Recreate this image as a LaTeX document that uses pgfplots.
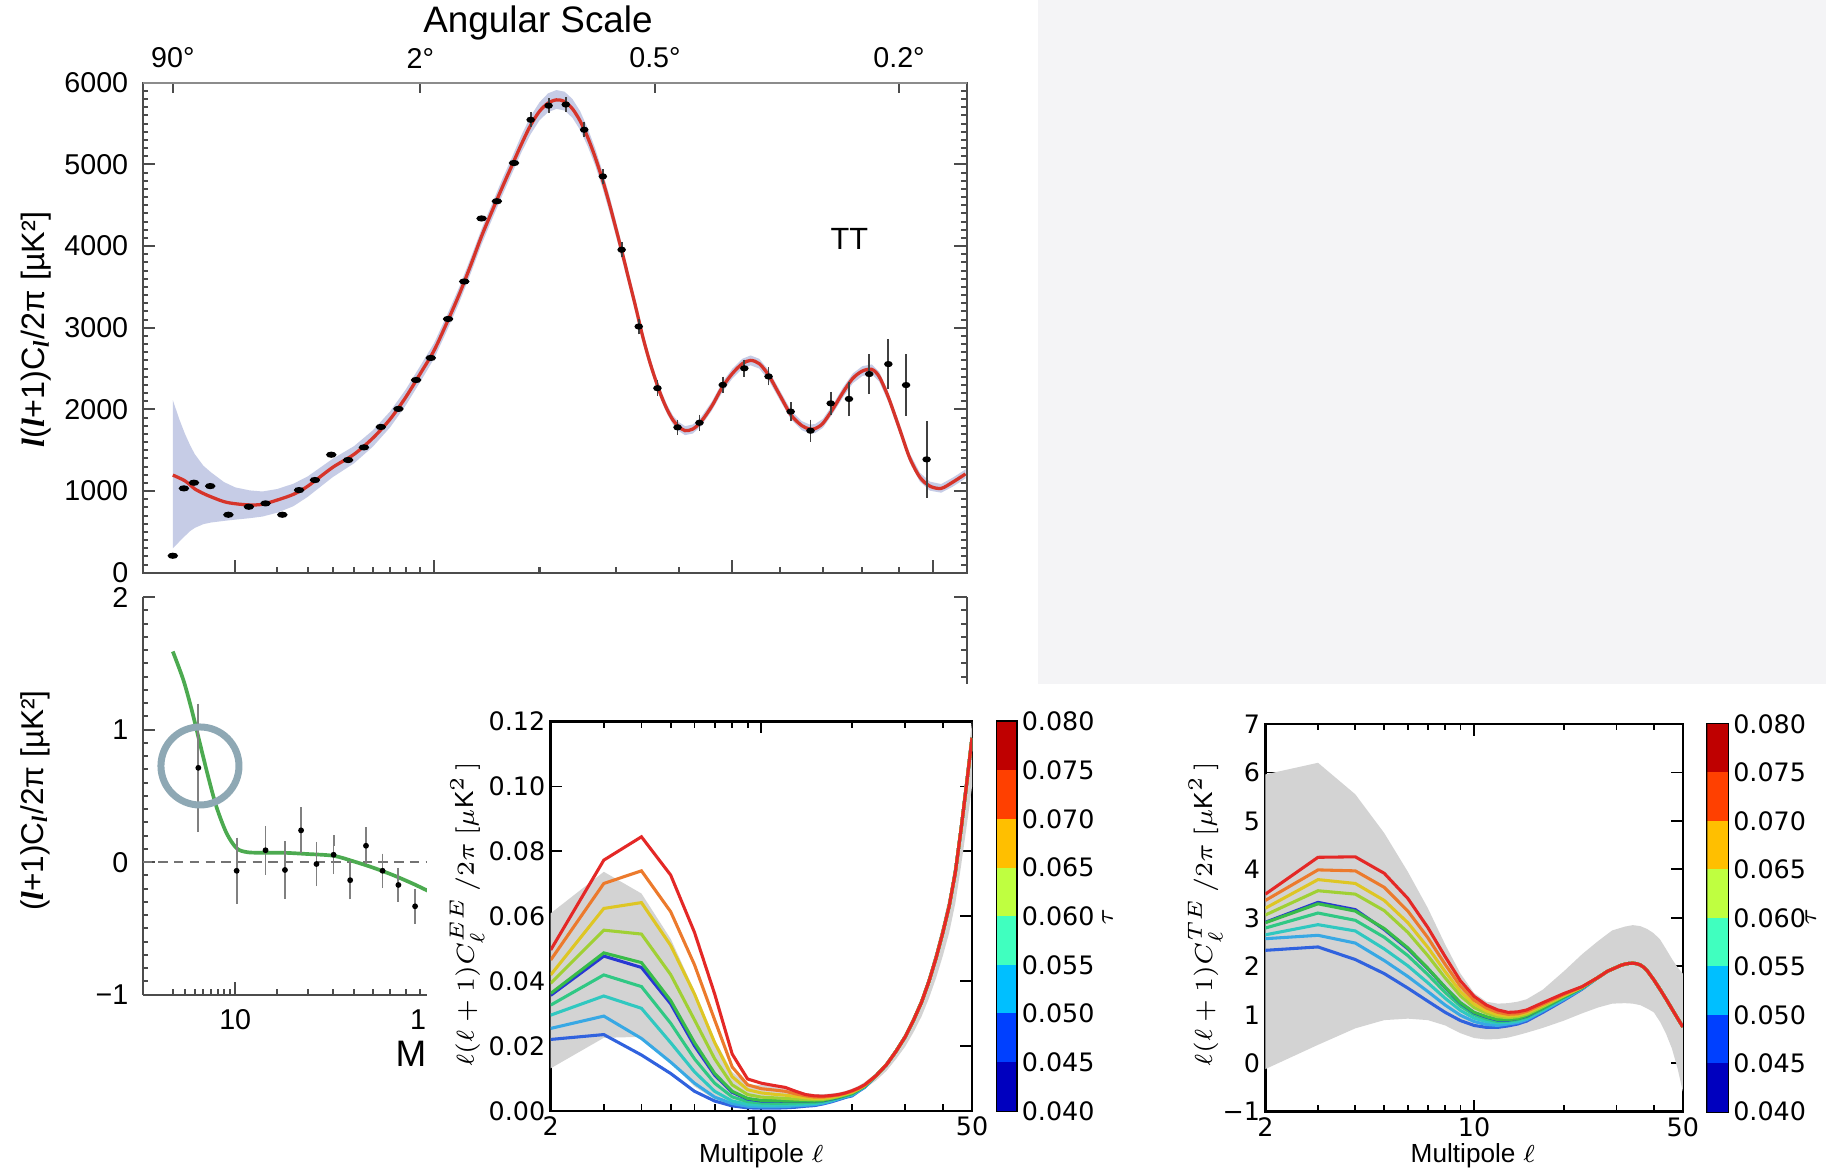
\documentclass[border=0pt]{standalone}
\usepackage{fontspec}
\setmainfont{Liberation Sans}
\newfontfamily\dejavu{DejaVu Sans}
\newfontfamily\libserif{Liberation Serif}
\usepackage{pgfplots}
\pgfplotsset{compat=1.18}
\usepackage{pgfplotstable}
\definecolor{wred}{RGB}{214,52,42}
\definecolor{wband}{RGB}{198,204,230}
\definecolor{wgreen}{RGB}{76,170,80}
\definecolor{circ}{RGB}{142,168,180}
\definecolor{greybg}{RGB}{244,244,246}
\definecolor{bandgrey}{RGB}{211,211,211}
\definecolor{cR}{RGB}{228,40,38}
\definecolor{cO}{RGB}{236,122,44}
\definecolor{cY}{RGB}{222,198,36}
\definecolor{cYG}{RGB}{160,208,52}
\definecolor{cG}{RGB}{56,188,72}
\definecolor{cDB}{RGB}{40,56,210}
\definecolor{cTG}{RGB}{48,200,132}
\definecolor{cT}{RGB}{48,200,192}
\definecolor{cC}{RGB}{56,168,228}
\definecolor{cB}{RGB}{48,98,222}
\definecolor{j1}{RGB}{0,0,191}
\definecolor{j2}{RGB}{0,64,255}
\definecolor{j3}{RGB}{0,191,255}
\definecolor{j4}{RGB}{64,255,191}
\definecolor{j5}{RGB}{191,255,64}
\definecolor{j6}{RGB}{255,191,0}
\definecolor{j7}{RGB}{255,64,0}
\definecolor{j8}{RGB}{191,0,0}
\newcommand\wl{{\libserif\bfseries\itshape l}}
% TT model curve
\pgfplotstableread{
l D
2 1196
2.5 1160
3 1125
3.5 1075
4 1025
5 970
6 930
8 870
10 845
13 830
16 838
20 890
25 960
30 1060
40 1290
50 1450
60 1650
70 1880
80 2150
90 2440
100 2720
110 3060
120 3400
130 3760
140 4120
150 4430
160 4720
170 4990
180 5250
190 5480
200 5650
210 5750
220 5790
230 5770
240 5680
250 5530
260 5330
270 5090
280 4820
290 4520
300 4200
310 3880
320 3550
330 3230
340 2900
350 2620
360 2380
370 2170
380 2000
390 1870
400 1790
411 1740
425 1760
440 1850
460 2040
480 2270
500 2440
520 2560
537 2600
555 2560
575 2420
600 2170
625 1930
650 1800
668 1760
681 1765
700 1830
725 2010
750 2210
775 2380
800 2470
825 2490
845 2400
870 2150
900 1780
930 1410
960 1170
990 1060
1024 1033
1060 1110
1100 1210
}\ttcurve
% TT uncertainty band: upper edge forward, lower edge back
\pgfplotstableread{
l v
2 2114
2.5 1880
3 1700
3.5 1560
4 1450
5 1310
6 1230
8 1110
10 1045
13 1008
16 995
20 1025
25 1090
30 1180
40 1395
50 1550
60 1745
70 1975
80 2245
90 2535
100 2810
110 3150
120 3490
130 3850
140 4210
150 4520
160 4820
170 5090
180 5360
190 5590
200 5760
210 5870
220 5910
230 5890
240 5800
250 5650
260 5440
270 5200
280 4920
290 4620
300 4290
310 3970
320 3630
330 3310
340 2970
350 2690
360 2440
370 2230
380 2055
390 1925
400 1845
411 1795
425 1815
440 1905
460 2095
480 2330
500 2500
520 2620
537 2660
555 2620
575 2480
600 2230
625 1985
650 1855
668 1815
681 1820
700 1885
725 2065
750 2270
775 2440
800 2530
825 2550
845 2460
870 2210
900 1840
930 1465
960 1225
990 1115
1024 1086
1060 1165
1100 1265
1100 1155
1060 1055
1024 980
990 1005
960 1115
930 1355
900 1720
870 2090
845 2340
825 2430
800 2410
775 2320
750 2150
725 1955
700 1775
681 1710
668 1705
650 1745
625 1875
600 2110
575 2360
555 2500
537 2540
520 2500
500 2380
480 2210
460 1985
440 1795
425 1705
411 1685
400 1735
390 1815
380 1945
370 2110
360 2320
350 2550
340 2830
330 3150
320 3470
310 3790
300 4110
290 4420
280 4720
270 4990
260 5220
250 5420
240 5570
230 5660
220 5680
210 5640
200 5540
190 5370
180 5150
170 4890
160 4620
150 4330
140 4020
130 3660
120 3300
110 2960
100 2620
90 2340
80 2050
70 1780
60 1545
50 1340
40 1170
30 930
25 815
20 735
16 688
13 668
10 650
8 635
6 615
5 595
4 550
3.5 510
3 450
2.5 380
2 298
}\ttband
\pgfplotstableread{
l D
2 208
2.9 1033
3.9 1102
5.9 1061
8.75 710
12.8 808
16.8 849
21.5 710
26.9 1012
32.7 1135
39.4 1445
47.1 1380
55.1 1535
64.5 1785
75.2 2006
87 2360
97.6 2630
111 3107
124.5 3566
140 4338
154.6 4549
172 5017
}\ttlow
\pgfplotstableread{
l D e
190 5546 30
210.6 5719 30
231.5 5733 30
255.3 5424 30
280.8 4853 30
308 3955 35
334 3015 35
364 2260 35
398 1780 35
437 1836 40
481 2300 40
524 2503 45
575 2403 50
624 1973 55
670 1739 75
719 2074 80
765 2128 150
818 2433 185
870 2555 245
920 2298 315
980 1388 408
}\tterr
% lower-left panel
\pgfplotstableread{
l v
2 1.59
2.85 1.376
3.66 1.15
4.58 0.895
5.64 0.641
6.82 0.415
8.44 0.218
10.27 0.105
12.32 0.076
15.4 0.071
21.8 0.071
29.5 0.062
40.4 0.048
49.8 0.006
60.2 -0.042
72.1 -0.099
85.1 -0.164
94.6 -0.212
110 -0.28
}\tecurve
\pgfplotstableread{
l v e
4.39 0.712 0.445
10.27 -0.065 0.21
16.8 0.09 0.144
22.3 -0.059 0.177
27.6 0.24 0.133
33.3 -0.014 0.127
40.4 0.056 0.107
48.1 -0.136 0.105
56.2 0.124 0.10
65.5 -0.065 0.09
75.2 -0.172 0.088
86.3 -0.333 0.09
}\tedata
% EE panel
\pgfplotstableread{
l cr co cy cyg cg cdb ctg ct cc cb
2 .0496 .0465 .0419 .0393 .0362 .0356 .0326 .0295 .0254 .0220
3 .0773 .0701 .0624 .0557 .0487 .0477 .0419 .0354 .0292 .0235
4 .0845 .0740 .0642 .0545 .0457 .0442 .0383 .0316 .0223 .0172
5 .0727 .0614 .0510 .0420 .0340 .0330 .0270 .0210 .0150 .0115
6 .0550 .0450 .0360 .0280 .0210 .0200 .0160 .0120 .0085 .0060
7 .0360 .0280 .0210 .0160 .0115 .0110 .0085 .0060 .0042 .0030
8 .0175 .0135 .0105 .0080 .0060 .0057 .0043 .0030 .0022 .0015
9 .0098 .0080 .0065 .0050 .0038 .0036 .0028 .0020 .0014 .0009
10 .0085 .0068 .0055 .0042 .0032 .0030 .0024 .0017 .0012 .0008
11 .0078 .0064 .0051 .0040 .0031 .0030 .0023 .0017 .0012 .0008
12 .0072 .0060 .0048 .0038 .0030 .0029 .0023 .0018 .0013 .0009
13 .0060 .0052 .0044 .0036 .0030 .0029 .0024 .0019 .0015 .0011
14 .0050 .0046 .0040 .0035 .0030 .0029 .0025 .0021 .0017 .0014
15 .0046 .0042 .0038 .0034 .0030 .0030 .0026 .0022 .0019 .0016
16 .0045 .0042 .0038 .0035 .0032 .0031 .0029 .0026 .0023 .0021
17 .0047 .0045 .0042 .0039 .0037 .0036 .0034 .0032 .0029 .0027
18 .0050 .0048 .0046 .0044 .0042 .0041 .0040 .0038 .0036 .0034
19 .0055 .0054 .0052 .0050 .0048 .0048 .0046 .0045 .0043 .0041
20 .0062 .0060 .0058 .0056 .0054 .0054 .0052 .0050 .0048 .0046
21 .0070 .0069 .0068 .0066 .0065 .0065 .0064 .0063 .0061 .0060
22 .0080 .0079 .0078 .0077 .0076 .0076 .0075 .0074 .0073 .0072
24 .0108 .0108 .0108 .0108 .0108 .0108 .0108 .0108 .0108 .0108
26 .0142 .0142 .0142 .0142 .0142 .0142 .0142 .0142 .0142 .0142
28 .0184 .0184 .0184 .0184 .0184 .0184 .0184 .0184 .0184 .0184
30 .0228 .0228 .0228 .0228 .0228 .0228 .0228 .0228 .0228 .0228
32 .0280 .0280 .0280 .0280 .0280 .0280 .0280 .0280 .0280 .0280
34 .0335 .0335 .0335 .0335 .0335 .0335 .0335 .0335 .0335 .0335
36 .0400 .0400 .0400 .0400 .0400 .0400 .0400 .0400 .0400 .0400
38 .0472 .0472 .0472 .0472 .0472 .0472 .0472 .0472 .0472 .0472
40 .0550 .0550 .0550 .0550 .0550 .0550 .0550 .0550 .0550 .0550
42 .0632 .0632 .0632 .0632 .0632 .0632 .0632 .0632 .0632 .0632
44 .0735 .0735 .0735 .0735 .0735 .0735 .0735 .0735 .0735 .0735
46 .0870 .0870 .0870 .0870 .0870 .0870 .0870 .0870 .0870 .0870
48 .1010 .1010 .1010 .1010 .1010 .1010 .1010 .1010 .1010 .1010
50 .1150 .1150 .1150 .1150 .1150 .1150 .1150 .1150 .1150 .1150
}\ee
\pgfplotstableread{
l v
2 .0609
3 .0737
4 .0670
5 .0530
6 .0370
7 .0220
8 .0120
9 .0080
10 .0080
11 .0080
12 .0076
13 .0064
14 .0055
15 .0051
16 .0051
17 .0053
18 .0056
19 .0061
20 .0068
21 .0077
22 .0088
24 .0116
26 .0151
28 .0194
30 .0240
32 .0294
34 .0352
36 .0420
38 .0496
40 .0578
42 .0664
44 .0772
46 .0914
48 .1061
50 .1200
50 .1000
48 .0879
46 .0757
44 .0640
42 .0550
40 .0478
38 .0410
36 .0348
34 .0291
32 .0243
30 .0198
28 .0160
26 .0123
24 .0093
22 .0068
21 .0059
20 .0050
19 .0043
18 .0037
17 .0031
16 .0026
15 .0021
14 .0017
13 .0013
12 .0010
11 .0008
10 .0007
9 .0008
8 .0015
7 .0035
6 .0075
5 .0150
4 .0228
3 .0225
2 .0131
}\eeband
% TE panel
\pgfplotstableread{
l cr co cy cyg cg cdb ctg ct cc cb
2 3.49 3.36 3.20 3.06 2.90 2.91 2.79 2.65 2.57 2.33
3 4.25 3.99 3.79 3.56 3.29 3.32 3.10 2.86 2.64 2.40
4 4.26 3.97 3.71 3.49 3.14 3.17 2.95 2.73 2.48 2.14
5 3.92 3.63 3.36 3.15 2.78 2.76 2.60 2.36 2.12 1.85
6 3.40 3.14 2.90 2.70 2.38 2.36 2.22 2.01 1.79 1.55
7 2.80 2.59 2.39 2.22 1.96 1.95 1.83 1.66 1.48 1.28
8 2.20 2.04 1.89 1.76 1.57 1.56 1.46 1.34 1.20 1.05
9 1.70 1.59 1.48 1.39 1.25 1.24 1.18 1.09 0.99 0.88
10 1.38 1.30 1.22 1.15 1.05 1.04 1.00 0.93 0.86 0.78
11 1.20 1.14 1.08 1.03 0.96 0.95 0.91 0.86 0.80 0.74
12 1.10 1.05 1.00 0.96 0.90 0.89 0.86 0.83 0.78 0.74
13 1.05 1.01 0.97 0.94 0.90 0.89 0.87 0.84 0.81 0.77
14 1.06 1.02 0.99 0.96 0.92 0.92 0.90 0.87 0.84 0.81
15 1.10 1.07 1.04 1.01 0.98 0.97 0.95 0.93 0.90 0.87
17 1.25 1.22 1.20 1.17 1.14 1.14 1.12 1.10 1.08 1.05
20 1.44 1.42 1.40 1.39 1.37 1.37 1.36 1.34 1.32 1.30
23 1.58 1.58 1.57 1.57 1.56 1.56 1.55 1.55 1.54 1.53
26 1.77 1.77 1.77 1.77 1.77 1.77 1.77 1.77 1.77 1.77
28 1.90 1.90 1.90 1.90 1.90 1.90 1.90 1.90 1.90 1.90
30 1.98 1.98 1.98 1.98 1.98 1.98 1.98 1.98 1.98 1.98
31 2.02 2.02 2.02 2.02 2.02 2.02 2.02 2.02 2.02 2.02
32 2.045 2.045 2.045 2.045 2.045 2.045 2.045 2.045 2.045 2.045
33 2.06 2.06 2.06 2.06 2.06 2.06 2.06 2.06 2.06 2.06
34 2.065 2.065 2.065 2.065 2.065 2.065 2.065 2.065 2.065 2.065
35 2.055 2.055 2.055 2.055 2.055 2.055 2.055 2.055 2.055 2.055
36 2.03 2.03 2.03 2.03 2.03 2.03 2.03 2.03 2.03 2.03
37 1.98 1.98 1.98 1.98 1.98 1.98 1.98 1.98 1.98 1.98
38 1.91 1.91 1.91 1.91 1.91 1.91 1.91 1.91 1.91 1.91
40 1.72 1.72 1.72 1.72 1.72 1.72 1.72 1.72 1.72 1.72
42 1.52 1.52 1.52 1.52 1.52 1.52 1.52 1.52 1.52 1.52
44 1.32 1.32 1.32 1.32 1.32 1.32 1.32 1.32 1.32 1.32
46 1.12 1.12 1.12 1.12 1.12 1.12 1.12 1.12 1.12 1.12
48 0.93 0.93 0.93 0.93 0.93 0.93 0.93 0.93 0.93 0.93
50 0.75 0.75 0.75 0.75 0.75 0.75 0.75 0.75 0.75 0.75
}\te
\pgfplotstableread{
l v
2 5.96
3 6.20
4 5.55
5 4.75
6 3.95
7 3.20
8 2.45
9 1.85
10 1.45
11 1.27
12 1.23
13 1.24
14 1.27
15 1.32
17 1.52
20 1.90
23 2.25
26 2.52
29 2.74
32 2.82
34 2.85
36 2.83
38 2.77
40 2.68
42 2.55
44 2.35
46 2.15
48 1.98
50 1.85
50 -0.58
48 -0.10
46 0.30
44 0.60
42 0.85
40 1.05
38 1.13
36 1.20
34 1.23
32 1.24
29 1.23
26 1.15
23 1.03
20 0.88
17 0.73
15 0.63
14 0.58
13 0.53
12 0.50
11 0.49
10 0.52
9 0.62
8 0.78
7 0.89
6 0.92
5 0.89
4 0.72
3 0.38
2 -0.12
}\teband
\pgfplotsset{
  wmapaxis/.style={scale only axis, anchor=south west,
    axis line style={black!70, line width=0.55pt},
    tick style={black!70, line width=0.5pt},
    tick align=inside, major tick length=1.1mm, minor tick length=0.5mm,
    x coord trafo/.code={\pgfmathparse{(##1)^0.4}},
    x coord inv trafo/.code={\pgfmathparse{(##1)^2.5}},
    xmin=0.4758, xmax=1103.9, scaled ticks=false,
    tick label style={font=\fontsize{7}{7}\selectfont},
  },
  mplaxis/.style={scale only axis, anchor=south west,
    x coord trafo/.code={\pgfmathparse{ln(##1)}},
    x coord inv trafo/.code={\pgfmathparse{exp(##1)}},
    xmin=2, xmax=50, scaled ticks=false,
    xtick={2,10,50}, xticklabels={2,10,50}, minor xtick={3,4,5,6,7,8,9,20,30,40},
    tick align=inside, major tick length=1.0mm, minor tick length=0.55mm,
    axis line style={black, line width=0.6pt}, tick style={black, line width=0.45pt},
    tick label style={font=\dejavu\fontsize{6.2}{6.2}\selectfont},
    yticklabel style={inner sep=0.4mm}, xticklabel style={inner sep=0.4mm},
  },
  cbaxis/.style={scale only axis, anchor=south west, xmin=0, xmax=1, ymin=0.04, ymax=0.08,
    scaled ticks=false,
    xtick=\empty, ytick={0.040,0.045,0.050,0.055,0.060,0.065,0.070,0.075,0.080},
    yticklabels={0.040,0.045,0.050,0.055,0.060,0.065,0.070,0.075,0.080},
    yticklabel pos=right, ytick pos=right, tick align=inside, major tick length=0.4mm,
    axis line style={black, line width=0.6pt}, tick style={black, line width=0.4pt},
    tick label style={font=\dejavu\fontsize{6.2}{6.2}\selectfont},
    yticklabel style={inner sep=0.4mm},
  },
}
\begin{document}
\begin{tikzpicture}
\useasboundingbox (0,0) rectangle (156.8mm,100.6mm);
\fill[white] (0,0) rectangle (156.8mm,100.6mm);
% ---------- lower-left panel ----------
\begin{axis}[wmapaxis, at={(12.25mm,15.19mm)}, width=70.76mm, height=34.13mm,
  ymin=-1, ymax=2, axis x line*=bottom, axis y line*=box,
  ytick={-1,0,1,2}, yticklabels={−1,0,1,2}, minor y tick num=9,
  xtick={10,100}, xticklabels={10,100},
  minor xtick={2,3,4,5,6,7,8,9,20,30,40,50,60,70,80,90}]
\addplot[black!55, dash pattern=on 0.8mm off 0.55mm, line width=0.5pt] coordinates {(0.4758,0) (1103.9,0)};
\addplot[wgreen, line width=0.9pt, smooth] table[x=l,y=v]{\tecurve};
\addplot[only marks, mark=*, mark size=0.5pt, black,
  error bars/.cd, y dir=both, y explicit,
  error bar style={black!50, line width=0.45pt},
  error mark options={black!50, mark size=1.3pt, line width=0.45pt}]
  table[x=l,y=v,y error=e]{\tedata};
\draw[circ, line width=0.6mm] (axis cs:4.58,0.726) circle[radius=3.35mm];
\end{axis}
\node[font=\fontsize{9}{9}\selectfont, anchor=west, inner sep=0pt] at (33.9mm,10.1mm) {M};
\node[rotate=90, font=\fontsize{7.7}{7.7}\selectfont] at (3.0mm,31.85mm) {(\wl+1)C\textsubscript{\wl}/2π [µK²]};
% ---------- top panel ----------
\begin{axis}[wmapaxis, at={(12.25mm,51.42mm)}, width=70.76mm, height=42.08mm,
  ymin=0, ymax=6000, ytick={0,1000,2000,3000,4000,5000,6000},
  yticklabels={0,1000,2000,3000,4000,5000,6000}, minor y tick num=9,
  xtick={10,100,500,1000}, xticklabels={}, xtick pos=bottom,
  minor xtick={20,30,40,50,60,70,80,90,200,300,400,600,700,800,900}]
\addplot[fill=wband, draw=none] table[x=l,y=v]{\ttband};
\addplot[wred, line width=0.8pt, smooth] table[x=l,y=D]{\ttcurve};
\addplot[only marks, mark=*, mark size=0.55pt, mark options={xscale=1.9}, black] table[x=l,y=D]{\ttlow};
\addplot[only marks, mark=*, mark size=0.55pt, mark options={xscale=1.5}, black,
  error bars/.cd, y dir=both, y explicit,
  error bar style={black!75, line width=0.45pt},
  error mark options={black!75, mark size=1.2pt, line width=0.45pt}]
  table[x=l,y=D,y error=e]{\tterr};
\node[font=\fontsize{7.5}{7.5}\selectfont] at (axis cs:766,4090) {TT};
\end{axis}
\begin{axis}[wmapaxis, at={(12.25mm,51.42mm)}, width=70.76mm, height=42.08mm,
  ymin=0, ymax=6000, axis x line*=top, axis y line=none,
  axis line style={black!45, line width=0.55pt}, major tick length=0.85mm,
  xtick={2,90,360,900}, xticklabels={90°,2°,0.5°,0.2°}]
\addplot[draw=none] coordinates {(10,100)};
\end{axis}
\node[font=\fontsize{9}{9}\selectfont] at (46.2mm,98.6mm) {Angular Scale};
\node[rotate=90, font=\fontsize{7.9}{7.9}\selectfont] at (3.1mm,72.3mm) {\wl(\wl+1)C\textsubscript{\wl}/2π [µK²]};
% ---------- overlays ----------
\fill[white] (36.65mm,0) rectangle (156.8mm,41.85mm);
\fill[greybg] (89.1mm,41.85mm) rectangle (156.8mm,100.6mm);
% ---------- EE panel ----------
\begin{axis}[mplaxis, at={(47.29mm,5.22mm)}, width=36.18mm, height=33.41mm,
  ymin=0, ymax=0.12, ytick={0,0.02,0.04,0.06,0.08,0.10,0.12},
  yticklabels={0.00,0.02,0.04,0.06,0.08,0.10,0.12}]
\addplot[fill=bandgrey, draw=none] table[x=l,y=v]{\eeband};
\addplot[cB, line width=0.75pt] table[x=l,y=cb]{\ee};
\addplot[cC, line width=0.75pt] table[x=l,y=cc]{\ee};
\addplot[cT, line width=0.75pt] table[x=l,y=ct]{\ee};
\addplot[cTG, line width=0.75pt] table[x=l,y=ctg]{\ee};
\addplot[cDB, line width=0.75pt] table[x=l,y=cdb]{\ee};
\addplot[cG, line width=0.75pt] table[x=l,y=cg]{\ee};
\addplot[cYG, line width=0.75pt] table[x=l,y=cyg]{\ee};
\addplot[cY, line width=0.75pt] table[x=l,y=cy]{\ee};
\addplot[cO, line width=0.75pt] table[x=l,y=co]{\ee};
\addplot[cR, line width=0.75pt] table[x=l,y=cr]{\ee};
\end{axis}
\node[rotate=90, font=\fontsize{6.4}{6.4}\selectfont] at (40.1mm,22.1mm) {$\ell(\ell+1)C_\ell^{EE}\,/2\pi\ [\mu\mathrm{K}^2\,]$};
\node[font=\fontsize{6.4}{6.4}\selectfont] at (65.4mm,1.4mm) {$\mathrm{Multipole}\ \ell$};
\begin{axis}[cbaxis, at={(85.62mm,5.22mm)}, width=1.65mm, height=33.41mm]
\addplot[draw=none, fill=j1] coordinates {(0,0.040) (1,0.040) (1,0.045) (0,0.045)};
\addplot[draw=none, fill=j2] coordinates {(0,0.045) (1,0.045) (1,0.050) (0,0.050)};
\addplot[draw=none, fill=j3] coordinates {(0,0.050) (1,0.050) (1,0.055) (0,0.055)};
\addplot[draw=none, fill=j4] coordinates {(0,0.055) (1,0.055) (1,0.060) (0,0.060)};
\addplot[draw=none, fill=j5] coordinates {(0,0.060) (1,0.060) (1,0.065) (0,0.065)};
\addplot[draw=none, fill=j6] coordinates {(0,0.065) (1,0.065) (1,0.070) (0,0.070)};
\addplot[draw=none, fill=j7] coordinates {(0,0.070) (1,0.070) (1,0.075) (0,0.075)};
\addplot[draw=none, fill=j8] coordinates {(0,0.075) (1,0.075) (1,0.080) (0,0.080)};
\end{axis}
\node[rotate=90, font=\fontsize{6.4}{6.4}\selectfont] at (95.1mm,21.9mm) {$\tau$};
% ---------- TE panel ----------
\begin{axis}[mplaxis, at={(108.66mm,5.14mm)}, width=35.84mm, height=33.29mm,
  ymin=-1, ymax=7, ytick={-1,0,1,2,3,4,5,6,7},
  yticklabels={−1,0,1,2,3,4,5,6,7}]
\addplot[fill=bandgrey, draw=none] table[x=l,y=v]{\teband};
\addplot[cB, line width=0.75pt] table[x=l,y=cb]{\te};
\addplot[cC, line width=0.75pt] table[x=l,y=cc]{\te};
\addplot[cT, line width=0.75pt] table[x=l,y=ct]{\te};
\addplot[cTG, line width=0.75pt] table[x=l,y=ctg]{\te};
\addplot[cDB, line width=0.75pt] table[x=l,y=cdb]{\te};
\addplot[cG, line width=0.75pt] table[x=l,y=cg]{\te};
\addplot[cYG, line width=0.75pt] table[x=l,y=cyg]{\te};
\addplot[cY, line width=0.75pt] table[x=l,y=cy]{\te};
\addplot[cO, line width=0.75pt] table[x=l,y=co]{\te};
\addplot[cR, line width=0.75pt] table[x=l,y=cr]{\te};
\end{axis}
\node[rotate=90, font=\fontsize{6.4}{6.4}\selectfont] at (103.5mm,22.1mm) {$\ell(\ell+1)C_\ell^{TE}\,/2\pi\ [\mu\mathrm{K}^2\,]$};
\node[font=\fontsize{6.4}{6.4}\selectfont] at (126.5mm,1.4mm) {$\mathrm{Multipole}\ \ell$};
\begin{axis}[cbaxis, at={(146.62mm,5.14mm)}, width=1.75mm, height=33.29mm]
\addplot[draw=none, fill=j1] coordinates {(0,0.040) (1,0.040) (1,0.045) (0,0.045)};
\addplot[draw=none, fill=j2] coordinates {(0,0.045) (1,0.045) (1,0.050) (0,0.050)};
\addplot[draw=none, fill=j3] coordinates {(0,0.050) (1,0.050) (1,0.055) (0,0.055)};
\addplot[draw=none, fill=j4] coordinates {(0,0.055) (1,0.055) (1,0.060) (0,0.060)};
\addplot[draw=none, fill=j5] coordinates {(0,0.060) (1,0.060) (1,0.065) (0,0.065)};
\addplot[draw=none, fill=j6] coordinates {(0,0.065) (1,0.065) (1,0.070) (0,0.070)};
\addplot[draw=none, fill=j7] coordinates {(0,0.070) (1,0.070) (1,0.075) (0,0.075)};
\addplot[draw=none, fill=j8] coordinates {(0,0.075) (1,0.075) (1,0.080) (0,0.080)};
\end{axis}
\node[rotate=90, font=\fontsize{6.4}{6.4}\selectfont] at (155.5mm,21.9mm) {$\tau$};
\end{tikzpicture}
\end{document}
